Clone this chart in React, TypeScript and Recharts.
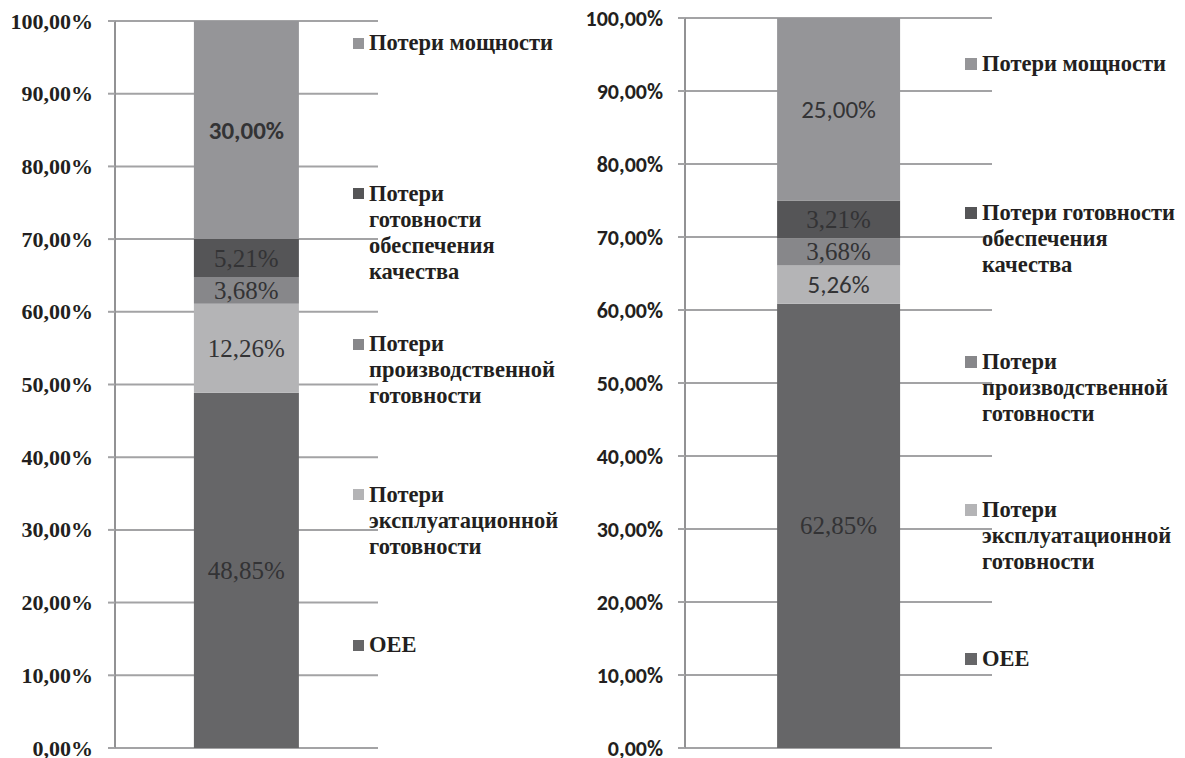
import React from 'react';
import { BarChart, Bar, XAxis, YAxis, CartesianGrid, LabelList, Legend } from 'recharts';

// ---------- data ----------
const CATEGORY = ['Итого'];
const SERIES_KEYS = ['oee', 'expl', 'prod', 'qual', 'power'];
const SERIES_NAMES = [
  'OEE',
  'Потери эксплуатационной готовности',
  'Потери производственной готовности',
  'Потери готовности обеспечения качества',
  'Потери мощности',
];
const SERIES_COLORS = ['#666668', '#b4b4b6', '#87878a', '#555557', '#959598'];
const Y_TICKS = [0, 10, 20, 30, 40, 50, 60, 70, 80, 90, 100];

const LEFT_VALUES = [48.85, 12.26, 3.68, 5.21, 30.0];
const LEFT_LABELS = ['48,85%', '12,26%', '3,68%', '5,21%', '30,00%'];
const RIGHT_VALUES = [60.85, 5.26, 3.68, 5.21, 25.0];
const RIGHT_LABELS = ['62,85%', '5,26%', '3,68%', '3,21%', '25,00%'];

const LEFT_LEGEND_LINES = [
  ['OEE'],
  ['Потери', 'эксплуатационной', 'готовности'],
  ['Потери', 'производственной', 'готовности'],
  ['Потери', 'готовности', 'обеспечения', 'качества'],
  ['Потери мощности'],
];
const RIGHT_LEGEND_LINES = [
  ['OEE'],
  ['Потери', 'эксплуатационной', 'готовности'],
  ['Потери', 'производственной', 'готовности'],
  ['Потери готовности', 'обеспечения', 'качества'],
  ['Потери мощности'],
];

// ---------- styles ----------
const SERIF_FONT = 'Liberation Serif';
const CALIBRI_FONT = 'Carlito';
const TEXT_DARK = '#231f20';
const LABEL_DARK = '#333335';
const LEGEND_FONT_SIZE = 22.5;

type LabelStyle = { fontFamily: string; fontWeight: number; fontSize: number };
const SERIF_LABEL: LabelStyle = { fontFamily: SERIF_FONT, fontWeight: 400, fontSize: 25 };
const SANS_LABEL: LabelStyle = { fontFamily: CALIBRI_FONT, fontWeight: 400, fontSize: 25 };
const SANS_BOLD_LABEL: LabelStyle = { fontFamily: CALIBRI_FONT, fontWeight: 700, fontSize: 25 };

const LEFT_LABEL_STYLES = [SERIF_LABEL, SERIF_LABEL, SERIF_LABEL, SERIF_LABEL, SANS_BOLD_LABEL];
const RIGHT_LABEL_STYLES = [SERIF_LABEL, SANS_LABEL, SERIF_LABEL, SERIF_LABEL, SANS_LABEL];

const fmtTick = (v: number) => v.toFixed(2).replace('.', ',') + '%';

const buildRow = (values: number[]) => {
  const row: Record<string, any> = { name: CATEGORY[0] };
  SERIES_KEYS.forEach((k, i) => {
    row[k] = values[i];
  });
  return [row];
};

type ChartCfg = {
  left: number;
  width: number;
  height: number;
  margin: { top: number; right: number; bottom: number; left: number };
  axisWidth: number;
  tickFont: { family: string; size: number };
  values: number[];
  labels: string[];
  labelStyles: LabelStyle[];
  legendLines: string[][];
  legend: { squareX: number; square: number; textX: number; firstCenter: number; spacing: number; lineHeight: number };
};

const LEFT_CFG: ChartCfg = {
  left: 0,
  width: 590,
  height: 758,
  margin: { top: 21, right: 212, bottom: 10, left: 0 },
  axisWidth: 115,
  tickFont: { family: SERIF_FONT, size: 22 },
  values: LEFT_VALUES,
  labels: LEFT_LABELS,
  labelStyles: LEFT_LABEL_STYLES,
  legendLines: LEFT_LEGEND_LINES,
  legend: { squareX: 353, square: 11, textX: 369, firstCenter: 43, spacing: 150.5, lineHeight: 26 },
};

const RIGHT_CFG: ChartCfg = {
  left: 570,
  width: 615,
  height: 758,
  margin: { top: 18, right: 193, bottom: 10, left: 0 },
  axisWidth: 115,
  tickFont: { family: CALIBRI_FONT, size: 22 },
  values: RIGHT_VALUES,
  labels: RIGHT_LABELS,
  labelStyles: RIGHT_LABEL_STYLES,
  legendLines: RIGHT_LEGEND_LINES,
  legend: { squareX: 395, square: 12, textX: 412, firstCenter: 64, spacing: 148.75, lineHeight: 26 },
};

const makeLegend = (cfg: ChartCfg) => () => {
  const order = SERIES_KEYS.map((_, i) => i).reverse();
  const L = cfg.legend;
  return (
    <div style={{ position: 'relative', width: 240, height: 720 }}>
      {order.map((si, pos) => {
        const center = L.firstCenter + pos * L.spacing;
        return (
          <div key={SERIES_KEYS[si]}>
            <div
              style={{
                position: 'absolute',
                left: L.squareX,
                top: center - L.square / 2,
                width: L.square,
                height: L.square,
                background: SERIES_COLORS[si],
              }}
            />
            {cfg.legendLines[si].map((line, li) => (
              <div
                key={li}
                style={{
                  position: 'absolute',
                  left: L.textX,
                  top: center - L.lineHeight / 2 + li * L.lineHeight,
                  height: L.lineHeight,
                  lineHeight: L.lineHeight + 'px',
                  whiteSpace: 'nowrap',
                  fontFamily: SERIF_FONT,
                  fontWeight: 700,
                  fontSize: LEGEND_FONT_SIZE,
                  color: TEXT_DARK,
                }}
              >
                {line}
              </div>
            ))}
          </div>
        );
      })}
    </div>
  );
};

const makeLabel = (text: string, st: LabelStyle) => (props: any) => {
  const { x, y, width, height } = props;
  return (
    <text
      x={Number(x) + Number(width) / 2}
      y={Number(y) + Number(height) / 2}
      textAnchor="middle"
      dominantBaseline="central"
      style={{ fontFamily: st.fontFamily, fontWeight: st.fontWeight, fontSize: st.fontSize }}
      fill={LABEL_DARK}
    >
      {text}
    </text>
  );
};

const makeTick = (cfg: ChartCfg) => (props: any) => {
  const { x, y, payload } = props;
  return (
    <text
      x={x}
      y={y}
      textAnchor="end"
      dominantBaseline="central"
      style={{ fontFamily: cfg.tickFont.family, fontWeight: 700, fontSize: cfg.tickFont.size }}
      fill={TEXT_DARK}
    >
      {fmtTick(payload.value)}
    </text>
  );
};

const StackChart = ({ cfg }: { cfg: ChartCfg }) => {
  const data = buildRow(cfg.values);
  return (
    <div style={{ position: 'absolute', left: cfg.left, top: 0, width: cfg.width, height: cfg.height }}>
      <BarChart width={cfg.width} height={cfg.height} data={data} margin={cfg.margin} barCategoryGap="30%">
        <CartesianGrid vertical={false} stroke="#a3a3a5" strokeWidth={2} />
        <XAxis dataKey="name" hide />
        <YAxis
          type="number"
          domain={[0, 100]}
          ticks={Y_TICKS}
          interval={0}
          width={cfg.axisWidth}
          tick={makeTick(cfg)}
          tickSize={7}
          tickMargin={15}
          tickLine={{ stroke: '#a3a3a5', strokeWidth: 2 }}
          axisLine={{ stroke: '#929294', strokeWidth: 2 }}
        />
        {SERIES_KEYS.map((k, i) => (
          <Bar key={k} dataKey={k} name={SERIES_NAMES[i]} stackId="s" fill={SERIES_COLORS[i]} isAnimationActive={false}>
            <LabelList dataKey={k} content={makeLabel(cfg.labels[i], cfg.labelStyles[i])} />
          </Bar>
        ))}
        <Legend
          layout="vertical"
          align="center"
          verticalAlign="middle"
          content={makeLegend(cfg)}
          wrapperStyle={{ position: 'absolute', left: 0, top: 0, width: 1, height: 1, overflow: 'visible' }}
        />
      </BarChart>
    </div>
  );
};

export default function App() {
  return (
    <div style={{ position: 'absolute', left: 0, top: 0, width: 1185, height: 758, background: '#ffffff', overflow: 'hidden' }}>
      <style>{'svg.recharts-surface { overflow: visible; }'}</style>
      <StackChart cfg={LEFT_CFG} />
      <StackChart cfg={RIGHT_CFG} />
    </div>
  );
}
